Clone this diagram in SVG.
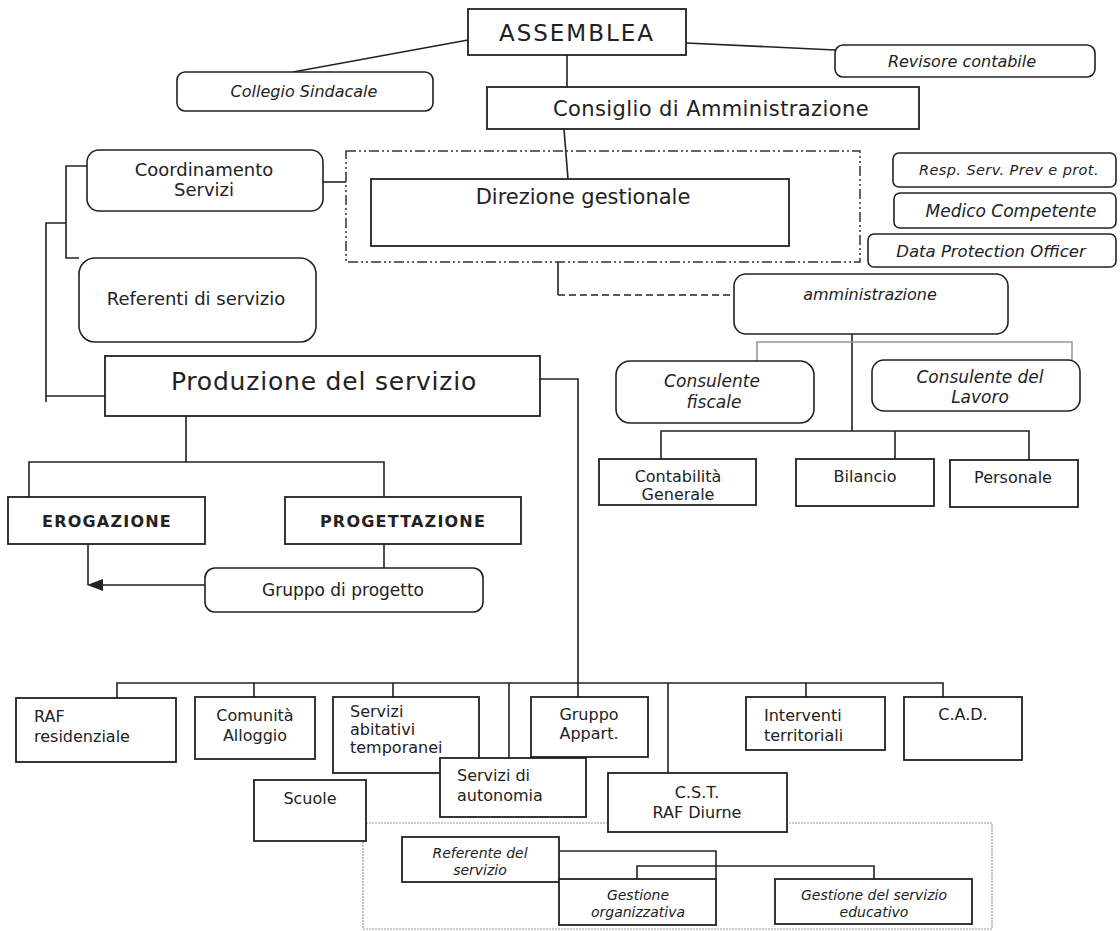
<svg xmlns="http://www.w3.org/2000/svg" width="1120" height="931" viewBox="0 0 1120 931">
<defs>
<style>
.box{fill:#fff;stroke:#222;stroke-width:1.8}
.rbox{fill:#fff;stroke:#222;stroke-width:1.6}
.ln{fill:none;stroke:#222;stroke-width:1.6}
.dash{fill:none;stroke:#222;stroke-width:1.4;stroke-dasharray:7 4}
.dashdot{fill:none;stroke:#333;stroke-width:1.5;stroke-dasharray:10 3 2 3 2 3}
.dot{fill:none;stroke:#999;stroke-width:1.2;stroke-dasharray:2 1}
.gray{fill:none;stroke:#999;stroke-width:1.6}
text{font-family:"DejaVu Sans","Liberation Sans",sans-serif;fill:#222}
.c{text-anchor:middle}
.i{font-style:italic}
.s14{font-size:14px}
.s15{font-size:15px}
.s16{font-size:16px}
.s17{font-size:17px}
.s18{font-size:18px}
.cap{font-size:16px;font-weight:bold;letter-spacing:1.2px}
</style>
</defs>
<rect width="1120" height="931" fill="#fff"/>
<g id="connectors">
<line class="ln" x1="468" y1="40" x2="293" y2="72"/>
<line class="ln" x1="686" y1="43" x2="835" y2="50"/>
<line class="ln" x1="567" y1="55" x2="567" y2="87"/>
<line class="ln" x1="564" y1="129" x2="568" y2="179"/>
<line class="ln" x1="323" y1="182" x2="346" y2="182"/>
<path class="ln" d="M87,166 H66 V258 H79"/>
<path class="ln" d="M66,223 H46 V402 M46,396 H105"/>
<rect class="dashdot" x="346" y="151" width="514" height="111"/>
<path class="ln" d="M558,262 V295"/>
<path class="dash" d="M558,295 H734"/>
<path class="ln" d="M540,379 H578 V697"/>
<path class="ln" d="M186,416 V462 M29,497 V462 H384 V497"/>
<path class="ln" d="M384,544 V568"/>
<path class="ln" d="M88,544 V585 M205,585 H101"/>
<polygon points="87,585 103,579 103,591" fill="#222"/>
<path class="ln" d="M852,334 V431 M661,459 V431 H1029 V460 M895,431 V459"/>
<path class="gray" d="M757,361 V342 H1072 V360"/>
<path class="ln" d="M117,698 V683 H943 V697 M254,683 V697 M393,683 V697 M509,683 V758 M668,683 V773 M806,683 V697"/>
<rect class="dot" x="363" y="823" width="629" height="106"/>
<path class="ln" d="M559,851 H716 V879 M637,879 V866 H874 V879"/>
</g>
<g id="assemblea"><rect class="box" x="468" y="9" width="218" height="46"/><text class="c" x="577" y="41" font-size="23" letter-spacing="2">ASSEMBLEA</text></g>
<g id="collegio"><rect class="rbox" x="177" y="72" width="256" height="39" rx="8"/><text class="c i s16" x="304" y="97">Collegio Sindacale</text></g>
<g id="revisore"><rect class="rbox" x="835" y="45" width="260" height="32" rx="8"/><text class="c i s16" x="962" y="67">Revisore contabile</text></g>
<g id="consiglio"><rect class="box" x="487" y="87" width="432" height="42"/><text class="c" x="711" y="116" font-size="21" letter-spacing="0.4">Consiglio di Amministrazione</text></g>
<g id="direzione"><rect class="box" x="371" y="179" width="418" height="67"/><text class="c" x="583" y="204" font-size="21">Direzione gestionale</text></g>
<g id="coordinamento"><rect class="rbox" x="87" y="150" width="236" height="61" rx="12"/><text class="c s18" x="204" y="176">Coordinamento</text><text class="c s18" x="204" y="196">Servizi</text></g>
<g id="referenti"><rect class="rbox" x="79" y="258" width="237" height="84" rx="16"/><text class="c s18" x="196" y="305">Referenti di servizio</text></g>
<g id="resp"><rect class="rbox" x="893" y="153" width="223" height="34" rx="6"/><text class="c i" x="1009" y="175" font-size="14.5" letter-spacing="0.4">Resp. Serv. Prev e prot.</text></g>
<g id="medico"><rect class="rbox" x="894" y="193" width="222" height="35" rx="6"/><text class="c i s17" x="1011" y="217">Medico Competente</text></g>
<g id="dpo"><rect class="rbox" x="868" y="234" width="248" height="33" rx="6"/><text class="c i" x="991" y="257" font-size="16.5">Data Protection Officer</text></g>
<g id="amministrazione"><rect class="rbox" x="734" y="274" width="274" height="60" rx="12"/><text class="c i s16" x="870" y="300">amministrazione</text></g>
<g id="consulente-fiscale"><rect class="rbox" x="616" y="361" width="198" height="62" rx="14"/><text class="c i s17" x="712" y="387">Consulente</text><text class="c i s17" x="714" y="408">fiscale</text></g>
<g id="consulente-lavoro"><rect class="rbox" x="872" y="360" width="208" height="51" rx="12"/><text class="c i s17" x="980" y="383">Consulente del</text><text class="c i s17" x="980" y="403">Lavoro</text></g>
<g id="contabilita"><rect class="box" x="599" y="459" width="157" height="46"/><text class="c s16" x="678" y="482">Contabilità</text><text class="c s16" x="678" y="500">Generale</text></g>
<g id="bilancio"><rect class="box" x="796" y="459" width="138" height="47"/><text class="c s16" x="865" y="482">Bilancio</text></g>
<g id="personale"><rect class="box" x="950" y="460" width="128" height="47"/><text class="c s16" x="1013" y="483">Personale</text></g>
<g id="produzione"><rect class="box" x="105" y="356" width="435" height="60"/><text class="c" x="324" y="390" font-size="25" letter-spacing="0.8">Produzione del servizio</text></g>
<g id="erogazione"><rect class="box" x="8" y="497" width="197" height="47"/><text class="c cap" x="107" y="527">EROGAZIONE</text></g>
<g id="progettazione"><rect class="box" x="285" y="497" width="236" height="47"/><text class="c cap" x="403" y="527">PROGETTAZIONE</text></g>
<g id="gruppo-progetto"><rect class="rbox" x="205" y="568" width="278" height="44" rx="10"/><text class="c s17" x="343" y="596">Gruppo di progetto</text></g>
<g id="raf"><rect class="box" x="16" y="698" width="160" height="64"/><text class="s16" x="34" y="722">RAF</text><text class="s16" x="34" y="742">residenziale</text></g>
<g id="comunita"><rect class="box" x="195" y="697" width="120" height="62"/><text class="c s16" x="255" y="721">Comunità</text><text class="c s16" x="255" y="741">Alloggio</text></g>
<g id="abitativi"><rect class="box" x="333" y="697" width="146" height="76"/><text class="s16" x="350" y="717">Servizi</text><text class="s16" x="350" y="735">abitativi</text><text class="s16" x="350" y="753">temporanei</text></g>
<g id="gruppo-appart"><rect class="box" x="531" y="697" width="117" height="60"/><text class="c s16" x="589" y="720">Gruppo</text><text class="c s16" x="589" y="739">Appart.</text></g>
<g id="autonomia"><rect class="box" x="440" y="758" width="146" height="59"/><text class="s16" x="457" y="781">Servizi di</text><text class="s16" x="457" y="801">autonomia</text></g>
<g id="cst"><rect class="box" x="608" y="773" width="179" height="59"/><text class="c s16" x="697" y="798">C.S.T.</text><text class="c s16" x="697" y="818">RAF Diurne</text></g>
<g id="interventi"><rect class="box" x="746" y="697" width="139" height="53"/><text class="s16" x="764" y="721">Interventi</text><text class="s16" x="764" y="741">territoriali</text></g>
<g id="cad"><rect class="box" x="904" y="697" width="118" height="63"/><text class="c s16" x="963" y="720">C.A.D.</text></g>
<g id="scuole"><rect class="box" x="254" y="780" width="112" height="61"/><text class="c s16" x="310" y="804">Scuole</text></g>
<g id="referente"><rect class="box" x="402" y="837" width="157" height="45"/><text class="c i s14" x="480" y="858">Referente del</text><text class="c i s14" x="480" y="875">servizio</text></g>
<g id="gestione-org"><rect class="box" x="559" y="879" width="157" height="46"/><text class="c i s14" x="638" y="900">Gestione</text><text class="c i s14" x="638" y="917">organizzativa</text></g>
<g id="gestione-edu"><rect class="box" x="775" y="879" width="197" height="45"/><text class="c i s14" x="874" y="900">Gestione del servizio</text><text class="c i s14" x="874" y="917">educativo</text></g>
</svg>
